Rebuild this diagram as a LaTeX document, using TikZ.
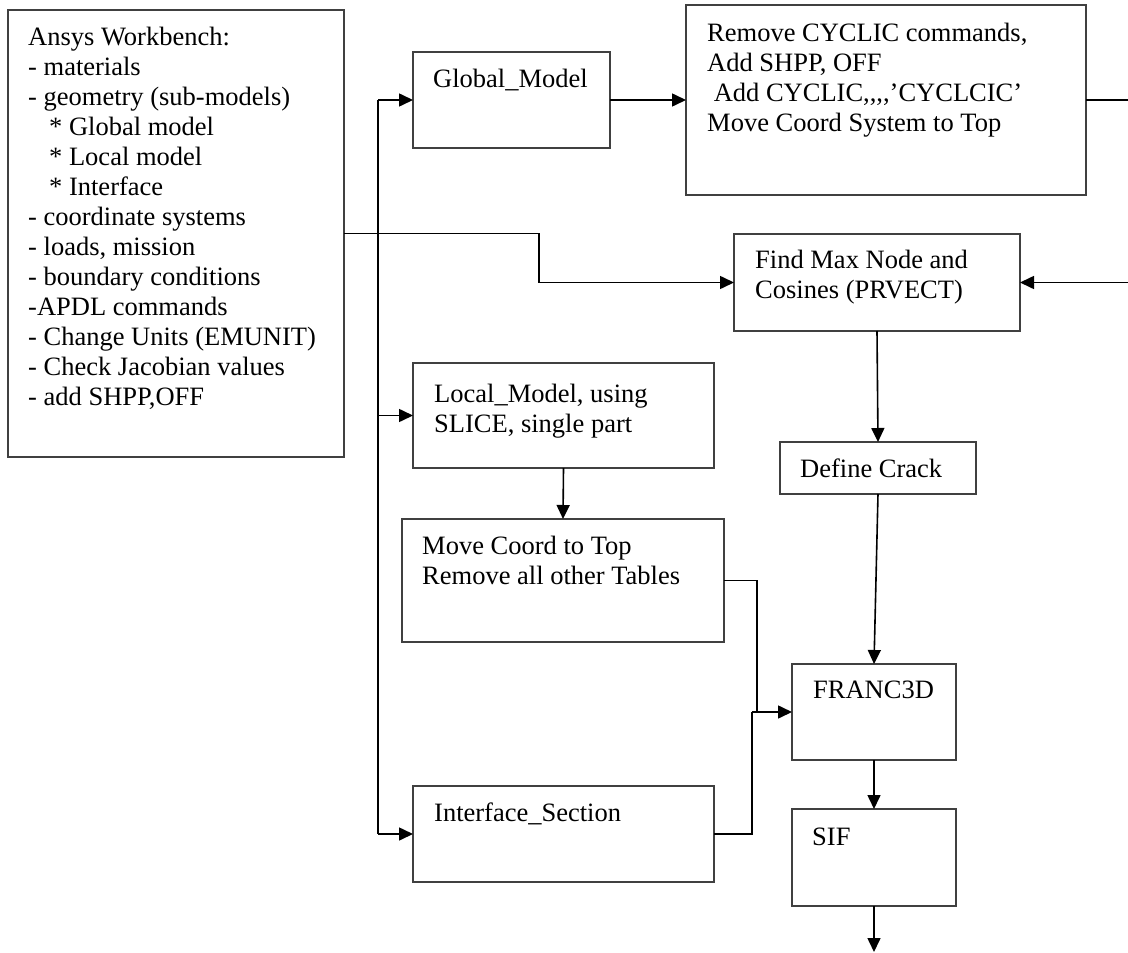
\documentclass[tikz,border=0pt]{standalone}
\usepackage{fontspec}
\setmainfont{Liberation Serif}
\usetikzlibrary{arrows.meta}
\tikzset{
  box/.style={draw=black!75, line width=1.2pt, inner sep=0pt, outer sep=0pt, fill=white},
  txt/.style={anchor=north west, inner sep=0pt, align=left, font=\fontsize{26.5}{30}\selectfont},
  conn/.style={draw=black, line width=1.6pt},
  arr/.style={-{Triangle[length=14pt,width=13pt]}}
}
\newcommand{\fl}{\rule{0pt}{24pt}}
\begin{document}
\begin{tikzpicture}[x=1pt,y=-1pt]
\useasboundingbox (0,0) rectangle (1128,953);
\clip (0,0) rectangle (1128,953);
% boxes
\node[box, minimum width=336pt, minimum height=447pt] (A) at (176,233.5) {};
\node[box, minimum width=197pt, minimum height=96pt] (G) at (511.5,100) {};
\node[box, minimum width=400pt, minimum height=190pt] (R) at (886,100) {};
\node[box, minimum width=286pt, minimum height=97pt] (F) at (877,282.5) {};
\node[box, minimum width=301pt, minimum height=105pt] (L) at (563.5,415.5) {};
\node[box, minimum width=196pt, minimum height=52pt] (D) at (878,468) {};
\node[box, minimum width=322pt, minimum height=123pt] (M) at (563,580.5) {};
\node[box, minimum width=164pt, minimum height=96pt] (Fr) at (874,712) {};
\node[box, minimum width=301pt, minimum height=96pt] (I) at (563.5,834) {};
\node[box, minimum width=164pt, minimum height=97pt] (S) at (874,857.5) {};
% texts
\node[txt] (tA) at (28,21) {\fl Ansys Workbench:\\
- materials\\
- geometry (sub-models)\\
\hspace*{21pt}* Global model\\
\hspace*{21pt}* Local model\\
\hspace*{21pt}* Interface\\
- coordinate systems\\
- loads, mission\\
- boundary conditions\\
-APDL commands\\
- Change Units (EMUNIT)\\
- Check Jacobian values\\
- add SHPP,OFF};
\node[txt] (tG) at (433,63) {\fl Global\_Model};
\node[txt] (tR) at (707,17) {\fl Remove CYCLIC commands,\\
Add SHPP, OFF\\
\hspace*{6.6pt}Add CYCLIC,{},{},{},’CYCLCIC’\\
Move Coord System to Top};
\node[txt] (tF) at (755,244) {\fl Find Max Node and\\Cosines (PRVECT)};
\node[txt] (tL) at (434,378) {\fl Local\_Model, using\\SLICE, single part};
\node[txt] (tD) at (800,453) {\fl Define Crack};
\node[txt] (tM) at (422,530) {\fl Move Coord to Top\\Remove all other Tables};
\node[txt] (tFr) at (813,674) {\fl FRANC3D};
\node[txt] (tI) at (434,797) {\fl Interface\_Section};
\node[txt] (tS) at (812,821) {\fl SIF};
% coordinates
\coordinate (a1) at (539,233.5);
\coordinate (bt) at (378,100);
\coordinate (bb) at (378,834);
\coordinate (r1) at (1150,100);
\coordinate (j1) at (757,580.5);
\coordinate (j2) at (757,712);
\coordinate (k1) at (752,834);
\coordinate (k2) at (752,712);
\coordinate (send) at (874,952);
% connectors
\draw[conn,arr] (A.east) -- (a1) |- (F.west);
\draw[conn] (bt) -- (bb);
\draw[conn,arr] (bt) -- (G.west);
\draw[conn,arr] (bb) -- (I.west);
\draw[conn,arr] (bt |- L.west) -- (L.west);
\draw[conn,arr] (G.east) -- (R.west);
\draw[conn,arr] (R.east) -- (r1) |- (F.east);
\draw[conn,arr] (F.south) -- (D.north);
\draw[conn,arr] (D.south) -- (Fr.north);
\draw[conn,arr] (Fr.south) -- (S.north);
\draw[conn,arr] (S.south) -- (send);
\draw[conn,arr] (L.south) -- (M.north);
\draw[conn] (M.east) -- (j1) -- (j2);
\draw[conn] (I.east) -- (k1) -- (k2);
\draw[conn,arr] (k2) -- (Fr.west);
\end{tikzpicture}
\end{document}
